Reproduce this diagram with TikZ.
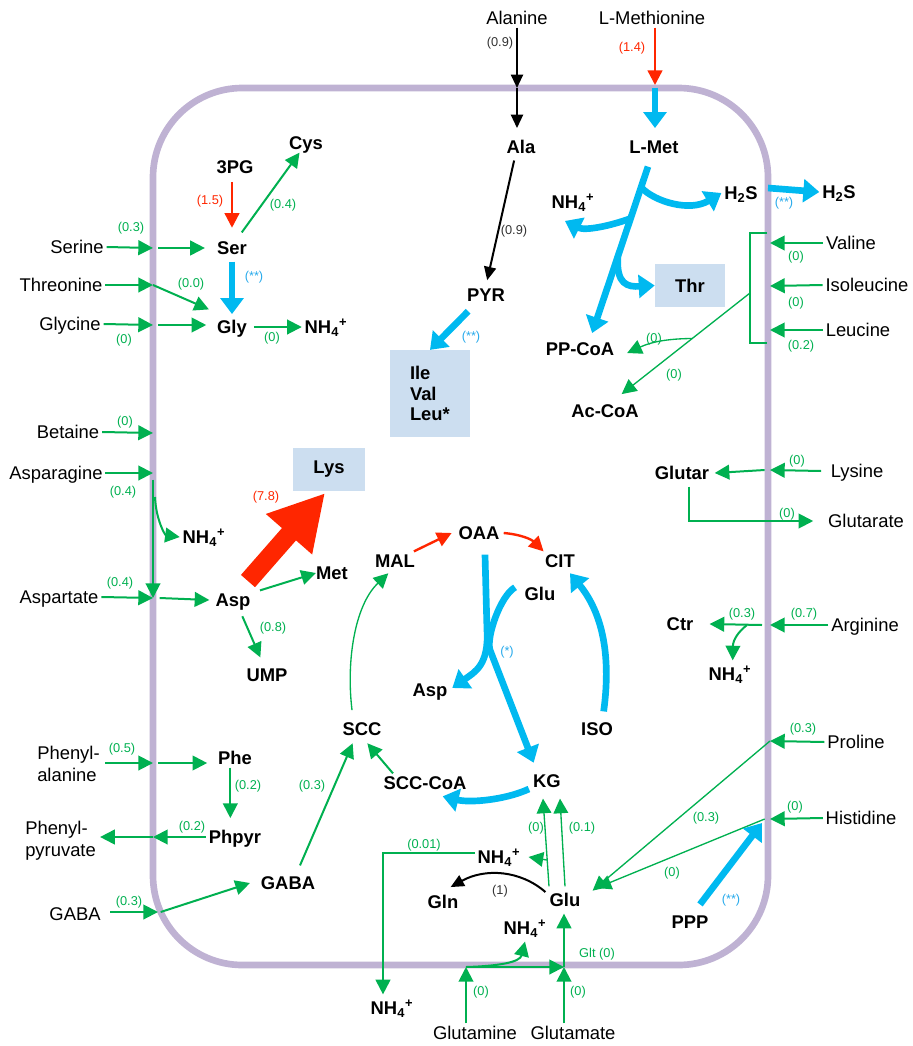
\documentclass[tikz,border=0pt]{standalone}
\usepackage{fontspec}
\setmainfont{Liberation Sans}
\usetikzlibrary{arrows.meta,calc}
\definecolor{gr}{RGB}{0,176,80}
\definecolor{rd}{RGB}{255,38,0}
\definecolor{cy}{RGB}{0,185,240}
\definecolor{cylab}{RGB}{40,170,235}
\definecolor{memb}{RGB}{191,178,211}
\definecolor{boxfill}{RGB}{204,222,240}
\definecolor{dgray}{RGB}{50,50,50}
\newcommand{\nhf}{NH\textsubscript{4}\textsuperscript{+}}
\newcommand{\hts}{H\textsubscript{2}S}
\tikzset{
  ext/.style={font=\fontsize{13.8}{15}\selectfont, inner sep=2pt, text height=10pt, text depth=0pt},
  extml/.style={font=\fontsize{13.8}{16.5}\selectfont, inner sep=0pt, align=left},
  met/.style={font=\bfseries\fontsize{13.8}{15}\selectfont, inner sep=2pt, text height=10pt, text depth=0pt},
  mbox/.style={fill=boxfill, font=\bfseries\fontsize{13.8}{15}\selectfont, inner sep=0pt},
  num/.style={font=\fontsize{9.6}{11}\selectfont, text=gr, inner sep=0pt},
  rnum/.style={num, text=rd},
  cnum/.style={num, text=cylab},
  knum/.style={num, text=dgray},
  membrane/.style={draw=memb, line width=5pt, rounded corners=67pt},
  garr/.style={draw=gr, line width=1.5pt, -{Triangle[length=11pt,width=11pt]}},
  gthin/.style={draw=gr, line width=1pt},
  gthinarr/.style={draw=gr, line width=1pt, -{Triangle[length=11pt,width=11pt]}},
  carr/.style={draw=cy, line width=5pt, -{Triangle[length=12pt,width=17pt]}},
  rarr/.style={draw=rd, line width=1.8pt, -{Triangle[length=11pt,width=11pt]}},
  barr/.style={draw=black, line width=1.5pt, -{Triangle[length=10pt,width=9pt]}},
}
\begin{document}
\begin{tikzpicture}[x=0.75pt,y=-0.75pt]
\useasboundingbox (0,0) rectangle (913,1046);
% membrane
\draw[membrane] (153,88) rectangle (768,965);

% ---------- nodes: external
\node[ext] (alanine) at (517,18) {Alanine};
\node[ext] (lmethionine) at (652,18) {L-Methionine};
\node[ext] (serine) at (77,247) {Serine};
\node[ext] (threonine) at (61,285) {Threonine};
\node[ext] (glycine) at (70,324) {Glycine};
\node[ext] (betaine) at (68,432) {Betaine};
\node[ext] (asparagine) at (56,473) {Asparagine};
\node[ext] (aspartate) at (59,597) {Aspartate};
\node[extml, anchor=west] (phenylala) at (37,764) {Phenyl-\\alanine};
\node[extml, anchor=west] (phenylpyr) at (25,841) {Phenyl-\\pyruvate};
\node[ext] (gabaout) at (75,914) {GABA};
\node[ext] (glutamine) at (475,1033) {Glutamine};
\node[ext] (glutamate) at (573,1033) {Glutamate};
\node[ext] (valine) at (851,243) {Valine};
\node[ext] (isoleucine) at (867,285) {Isoleucine};
\node[ext] (leucine) at (858,330) {Leucine};
\node[met] (h2sout) at (839,192) {\hts};
\node[ext] (lysine) at (857,471) {Lysine};
\node[ext] (glutarate) at (866,521) {Glutarate};
\node[ext] (arginine) at (865,625) {Arginine};
\node[ext] (proline) at (856,742) {Proline};
\node[ext] (histidine) at (861,818) {Histidine};
\node[met] (nh4out) at (392,1008) {\nhf};

% ---------- nodes: internal
\node[met] (ala) at (521,147) {Ala};
\node[met] (lmet) at (654,147) {L-Met};
\node[met] (pyr) at (486,295) {PYR};
\node[mbox, minimum width=60pt, minimum height=65pt] (ilv) at (430,393.5)
  {\parbox{30pt}{\fontsize{13.8}{15.4}\selectfont Ile\\Val\\Leu*}};
\node[met] (nh4a) at (573,202) {\nhf};
\node[met] (h2sin) at (741,193) {\hts};
\node[mbox, minimum width=52.5pt, minimum height=32pt] (thr) at (690,285.5) {Thr};
\node[met] (ppcoa) at (580,349) {PP-CoA};
\node[met] (accoa) at (605,411) {Ac-CoA};
\node[met] (cys) at (306,143) {Cys};
\node[met] (pg3) at (235,167) {3PG};
\node[met] (ser) at (232,248) {Ser};
\node[met] (gly) at (232,327) {Gly};
\node[met] (nh4gly) at (326,327) {\nhf};
\node[mbox, minimum width=54pt, minimum height=32pt] (lys) at (329,469.5) {Lys};
\node[met] (nh4asn) at (204,537) {\nhf};
\node[met] (asp) at (233,600) {Asp};
\node[met] (met) at (332,573) {Met};
\node[met] (ump) at (267,675) {UMP};
\node[met] (mal) at (395,561) {MAL};
\node[met] (oaa) at (479,533) {OAA};
\node[met] (cit) at (560,561) {CIT};
\node[met] (glutca) at (540,594) {Glu};
\node[met] (asptca) at (430,690) {Asp};
\node[met] (iso) at (597,729) {ISO};
\node[met] (scc) at (362,729) {SCC};
\node[met] (scccoa) at (425,783) {SCC-CoA};
\node[met] (kg) at (547,781) {KG};
\node[met] (phe) at (235,758) {Phe};
\node[met] (phpyr) at (235,837) {Phpyr};
\node[met] (gaba) at (288,883) {GABA};
\node[met] (nh4glu) at (499,857) {\nhf};
\node[met] (gln) at (443,902) {Gln};
\node[met] (glu) at (565,900) {Glu};
\node[met] (nh4gln) at (525,928) {\nhf};
\node[met] (glutar) at (682,473) {Glutar};
\node[met] (ctr) at (680,624) {Ctr};
\node[met] (nh4ctr) at (730,674) {\nhf};
\node[met] (ppp) at (690,922) {PPP};

% ---------- membrane crossing points
\coordinate (mAla) at (517,88);
\coordinate (mMet) at (655,85);
\coordinate (mH2S) at (768,188);
\coordinate (mVal) at (770,243);
\coordinate (mIle) at (770,286);
\coordinate (mLeu) at (770,330);
\coordinate (mSer) at (153,248);
\coordinate (mThr) at (153,285);
\coordinate (mGly) at (153,325);
\coordinate (mBet) at (153,433);
\coordinate (mAsn) at (153,473);
\coordinate (mAsp) at (153,598);
\coordinate (mPhe) at (153,763);
\coordinate (mPhp) at (153,837);
\coordinate (mGaba) at (158,912);
\coordinate (mGln) at (466,967);
\coordinate (mGlt) at (564,967);
\coordinate (mLys) at (770,470);
\coordinate (mArg) at (770,625);
\coordinate (mPro) at (770,741);
\coordinate (mHis) at (770,819);

% ---------- top
\draw[barr] (alanine.south -| mAla) -- (mAla);
\draw[barr, shorten >=7pt] (mAla) -- (mAla |- ala.north);
\draw[rarr] (lmethionine.south -| mMet) -- (mMet);
\draw[carr, shorten >=7pt, shorten <=2pt] (mMet) -- (mMet |- lmet.north);
\node[knum] (l09a) at (500,43) {(0.9)};
\node[rnum] (l14) at (632,48) {(1.4)};

\draw[barr, shorten <=3pt, shorten >=4pt] ([xshift=-4.5pt]ala.south) -- (pyr.north);
\node[knum] (l09b) at (514,231) {(0.9)};
\draw[carr] ([xshift=3pt,yshift=-5pt]pyr.south west) -- (ilv.north);
\node[cnum] (lss1) at (471,337) {(**)};

% L-Met branches
\coordinate (lm0) at ([xshift=-4.5pt,yshift=-7.5pt]lmet.south);
\coordinate (lm1) at ([xshift=7.5pt]ppcoa.north);
\draw[carr, shorten >=5pt] (lm0) -- (lm1);
\coordinate (lb1) at ($(lm0)!0.12!(lm1)$);
\coordinate (lb2) at ($(lm0)!0.30!(lm1)$);
\coordinate (lb3) at ($(lm0)!0.52!(lm1)$);
\draw[carr] (lb1) .. controls (655,202) and (690,212) .. (h2sin.west);
\draw[carr] (lb2) .. controls (610,226) and (585,231) .. ([xshift=-6pt,yshift=-7pt]nh4a.south);
\draw[carr] (lb3) .. controls (616,285) and (628,287) .. (thr.west);
\draw[carr] (mH2S) -- (h2sout.west);
\node[cnum] (lss2) at (784,203) {(**)};

% BCAA
\draw[garr] (valine.west) -- (mVal);
\draw[garr] (isoleucine.west) -- (mIle);
\draw[garr] (leucine.west) -- (mLeu);
\coordinate (brt) at (767,233);
\coordinate (brb) at (767,343);
\coordinate (brk) at (750,293);
\draw[gthin] (brt) -- (750,233) -- (750,343) -- (brb);
\coordinate (tAc) at ([xshift=-15pt,yshift=5.5pt]accoa.north east);
\draw[gthinarr] (brk) -- (tAc);
\coordinate (bj) at ($(brk)!0.45!(tAc)$);
\draw[gthinarr] (bj) to[bend right=12] ([xshift=7.5pt,yshift=-3pt]ppcoa.east);
\node[num] (l0pp) at (654,339) {(0)};
\node[num] (l0ac) at (674,375) {(0)};
\node[num] (l0val) at (796,257) {(0)};
\node[num] (l0ile) at (796,303) {(0)};
\node[num] (l02leu) at (801,346) {(0.2)};

% ---------- left top
\draw[rarr, shorten <=4pt, shorten >=8pt] (ser.north |- pg3.south) -- (ser.north);
\node[rnum] (l15) at (210,201) {(1.5)};
\draw[garr] ([xshift=-6pt,yshift=4.5pt]ser.north east) -- ([xshift=10pt]cys.south west);
\node[num] (l04c) at (283,205) {(0.4)};
\draw[carr, shorten <=3pt, shorten >=2.5pt] (ser.south) -- (gly.north);
\node[cnum] (lss3) at (254,277) {(**)};
\draw[garr, shorten <=3pt] (gly.east) -- (nh4gly.west);
\node[num] (l0g) at (272,338) {(0)};

\draw[garr] (serine.east) -- (mSer);
\draw[garr] ([xshift=4pt]mSer) -- ([xshift=-7pt]ser.west);
\node[num] (l03s) at (131,228) {(0.3)};
\draw[garr] (threonine.east) -- (mThr);
\draw[garr] (mThr) -- ([xshift=-4pt,yshift=6pt]gly.north west);
\node[num] (l00t) at (191,284) {(0.0)};
\draw[garr] (glycine.east) -- (mGly);
\draw[garr] ([xshift=4pt]mGly) -- ([xshift=-6pt]gly.west |- mGly);
\node[num] (l0gy) at (124,340) {(0)};

% ---------- left middle
\draw[garr] (betaine.east) -- (mBet);
\node[num] (l0b) at (125,422) {(0)};
\draw[garr] (asparagine.east) -- (mAsn);
\draw[garr] ([yshift=-5pt]mAsn) -- (mAsp);
\draw[garr] ($(mAsn)+(2,24)$) .. controls (156,520) and (165,535) .. (nh4asn.west);
\node[num] (l04n) at (123,492) {(0.4)};
\draw[garr] (aspartate.east) -- (mAsp);
\draw[garr] ([xshift=5pt]mAsp) -- ([xshift=-2.5pt]asp.west);
\node[num] (l04d) at (120,583) {(0.4)};
\draw[garr] ([xshift=5pt]asp.north east) -- ([xshift=2pt]met.west);
\draw[garr] ([xshift=7pt,yshift=-5pt]asp.south) -- ([xshift=-5pt,yshift=6pt]ump.north);
\node[num] (l08) at (273,628) {(0.8)};
\draw[draw=rd, line width=14pt, -{Triangle[length=41pt,width=43pt]}]
  ([xshift=-4pt,yshift=7pt]asp.north east) -- ([xshift=-3pt,yshift=-1.5pt]lys.south);
\node[rnum] (l78) at (266,497) {(7.8)};

% ---------- left bottom
\draw[garr] ([xshift=4pt]phenylala.east |- mPhe) -- (mPhe);
\draw[garr] ([xshift=4pt]mPhe) -- ([xshift=-6pt]phe.west |- mPhe);
\node[num] (l05) at (122,749) {(0.5)};
\draw[garr] ([xshift=-3.5pt]phe.south) -- ([xshift=-3.5pt,yshift=7pt]phpyr.north);
\node[num] (l02p) at (248,786) {(0.2)};
\draw[garr] (phpyr.west) -- (mPhp);
\draw[garr] (mPhp) -- ([xshift=3pt]phenylpyr.east |- mPhp);
\node[num] (l02q) at (192,827) {(0.2)};
\draw[garr] ([xshift=5pt]gabaout.east |- mGaba) -- (mGaba);
\draw[garr] ([xshift=2pt]mGaba) -- ([xshift=-6pt]gaba.west);
\node[num] (l03g) at (129,902) {(0.3)};
\draw[garr] ([xshift=9pt,yshift=6pt]gaba.north) -- ([xshift=-7pt,yshift=-3.5pt]scc.south);
\node[num] (l03gs) at (312,786) {(0.3)};

% ---------- TCA
\draw[rarr] ([xshift=-3pt]mal.north east) -- ([xshift=-3pt]oaa.west);
\draw[rarr] ([xshift=1pt]oaa.east) to[bend left=20] ([xshift=1pt]cit.north west);
\draw[carr] ([xshift=4.5pt,yshift=-9pt]oaa.south) -- (487,630) .. controls (489,665) and (475,672) .. ([xshift=1.5pt,yshift=1.5pt]asptca.east);
\draw[carr] ([xshift=-5pt,yshift=5pt]glutca.west) .. controls (500,596) and (486,638) .. (490,650) -- ([xshift=-10pt,yshift=6.5pt]kg.north);
\node[cnum] (lst) at (507,652) {(*)};
\draw[carr] ([xshift=5pt,yshift=6pt]iso.north) .. controls (612,650) and (600,610) .. ([xshift=7.5pt,yshift=-2pt]cit.south);
\draw[carr] ([xshift=-1pt,yshift=-6pt]kg.west) .. controls (505,800) and (470,803) .. ([xshift=-20pt,yshift=-10pt]scccoa.east);
\draw[garr] ([xshift=-24pt]scccoa.north) -- ([xshift=4pt,yshift=-3.5pt]scc.south);
\draw[gthinarr] ([xshift=-7.5pt,yshift=7pt]scc.north) .. controls (346,660) and (355,605) .. ([xshift=-5pt,yshift=-2pt]mal.south);

% ---------- bottom centre
\draw[garr] (mGln |- glutamine.north) -- (mGln);
\draw[garr] (mGln) -- (mGlt);
\draw[garr] (mGln) .. controls (500,966) and (520,962) .. ([yshift=-3pt]nh4gln.south);
\node[num] (l0q) at (481,992) {(0)};
\draw[garr] (glutamate.north -| mGlt) -- (mGlt);
\draw[garr, shorten >=3pt] (mGlt) -- (mGlt |- glu.south);
\node[num] (l0e) at (578,992) {(0)};
\node[num] (lglt) at (597,954) {Glt (0)};
\draw[barr] ([xshift=-1pt,yshift=6pt]glu.west) .. controls (520,870) and (485,868) .. ([xshift=-8pt,yshift=4pt]gln.north east);
\node[knum] (l1) at (500,891) {(1)};
\coordinate (gk0) at ([xshift=-12pt,yshift=3pt]glu.north);
\coordinate (gk1) at ([xshift=-3pt,yshift=-6pt]kg.south);
\draw[gthinarr] (gk0) -- (gk1);
\draw[gthinarr] ([yshift=3pt]glu.north) -- ([xshift=9.75pt,yshift=-6pt]kg.south);
\node[num] (l0k) at (536,828) {(0)};
\node[num] (l01k) at (582,828) {(0.1)};
\coordinate (gj) at ($(gk0)!0.30!(gk1)$);
\draw[gthinarr] (gj) -- ([xshift=4pt]nh4glu.east);
\draw[garr] ([yshift=3pt]nh4glu.west) -| ([xshift=-6.75pt,yshift=3pt]nh4out.north);
\node[num] (l001) at (424,845) {(0.01)};

% ---------- right
\draw[garr] ([xshift=-5pt]lysine.west) -- (mLys);
\draw[garr] ([xshift=-4pt]mLys) -- ([xshift=2pt]glutar.east);
\node[num] (l0ly) at (797,461) {(0)};
\draw[garr] ([xshift=5pt,yshift=-3pt]glutar.south) |- ([xshift=-9pt]glutarate.west);
\node[num] (l0gt) at (787,514) {(0)};
\draw[garr] (arginine.west) -- (mArg);
\draw[garr] ([xshift=-6pt]mArg) -- ([xshift=10pt]ctr.east);
\draw[garr] ($(mArg)+(-23,0)$) .. controls (738,632) and (733,640) .. ([xshift=2pt,yshift=3pt]nh4ctr.north);
\node[num] (l03c) at (742,614) {(0.3)};
\node[num] (l07) at (804,614) {(0.7)};
\draw[garr] (proline.west) -- (mPro);
\draw[gthinarr] (mPro) -- ([xshift=7pt,yshift=7pt]glu.east);
\node[num] (l03pr) at (803,729) {(0.3)};
\node[num] (l03pd) at (706,818) {(0.3)};
\draw[garr] (histidine.west) -- (mHis);
\draw[gthinarr] ([xshift=-4pt]mHis) -- ([xshift=10pt,yshift=9pt]glu.east);
\node[num] (l0h) at (795,807) {(0)};
\node[num] (l0hd) at (672,873) {(0)};
\draw[carr] ([xshift=7.5pt,yshift=6pt]ppp.north) -- ([xshift=-6pt,yshift=-3pt]mHis);
\node[cnum] (lss4) at (731,900) {(**)};
\end{tikzpicture}
\end{document}
